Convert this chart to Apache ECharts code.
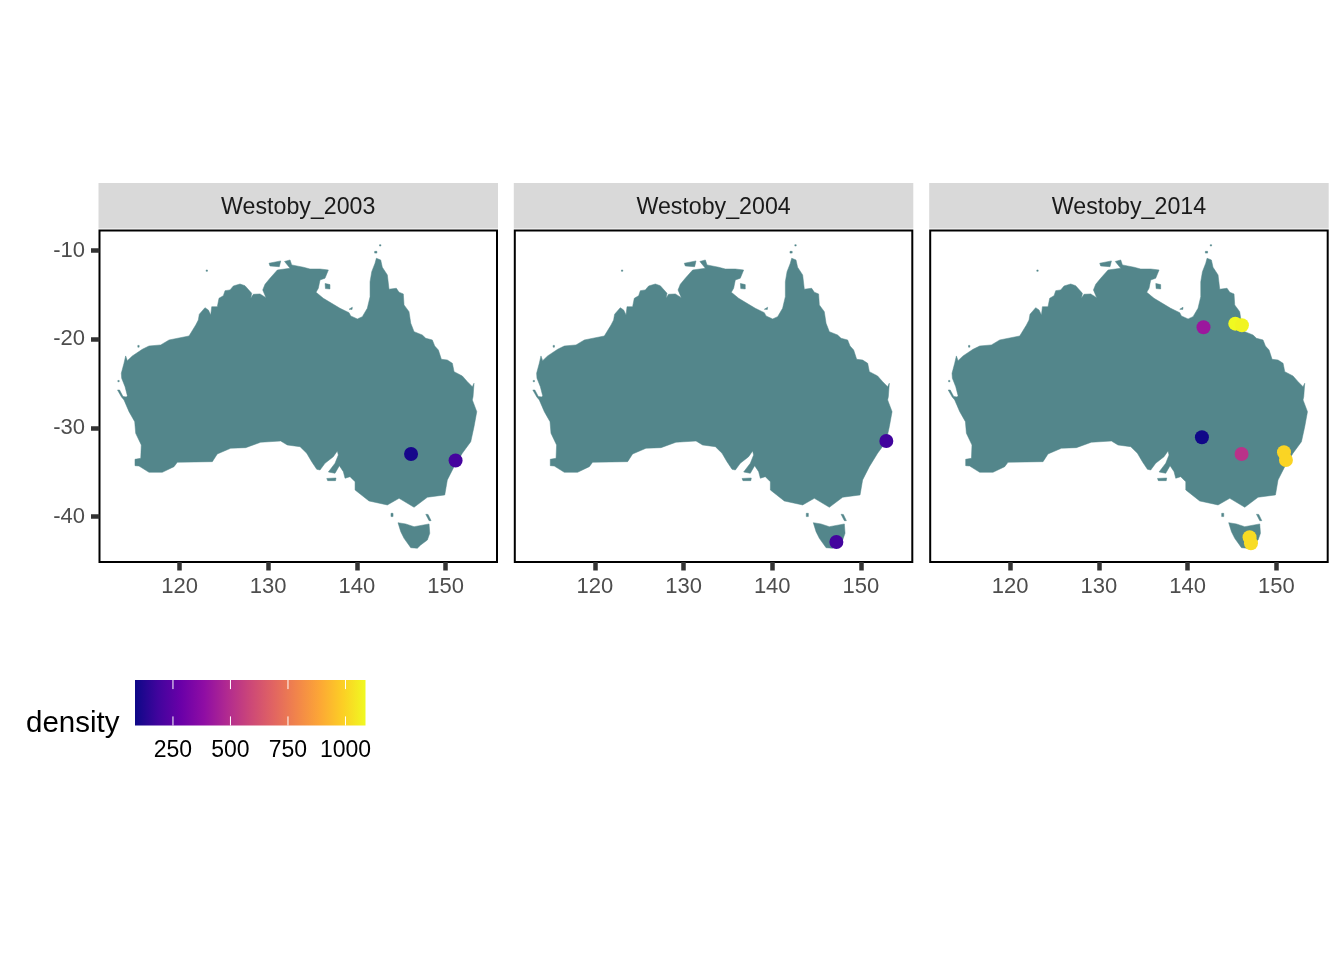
<!DOCTYPE html>
<html><head><meta charset="utf-8">
<style>html,body{margin:0;padding:0;background:#fff}#c{width:1344px;height:960px}</style>
<script src="https://cdn.jsdelivr.net/npm/echarts@6/dist/echarts.min.js"></script>
</head><body><div id="c"></div>
<script>
const panelNames = ['Westoby_2003','Westoby_2004','Westoby_2014'];
const lonTicks = [120,130,140,150];
const latTicks = [-40,-30,-20,-10];
const densityTicks = [250,500,750,1000];
const plasma = ['#0d0887','#41049d','#6a00a8','#8f0da4','#b12a90','#cc4778','#e16462','#f1844b','#fca636','#fcce25','#f0f921'];

const mainland = [[114.12,-26.37],[113.86,-25.36],[113.48,-24.41],[113.44,-23.84],[113.74,-22.72],[113.93,-21.89],[114.12,-22.42],[114.68,-21.89],[115.81,-21.14],[116.56,-20.77],[117.88,-20.65],[118.82,-20.09],[121.07,-19.64],[121.83,-18.40],[122.12,-17.84],[122.23,-17.19],[122.87,-16.45],[123.25,-16.71],[123.52,-17.27],[123.63,-16.34],[124.26,-16.34],[124.45,-15.39],[124.94,-15.10],[125.13,-14.53],[125.69,-14.45],[126.07,-14.00],[126.82,-13.78],[127.38,-13.97],[128.14,-14.83],[128.03,-15.39],[128.32,-14.94],[129.08,-14.90],[129.75,-15.32],[129.38,-14.45],[129.64,-13.81],[130.20,-13.13],[131.03,-12.20],[132.46,-12.01],[131.84,-11.24],[132.46,-11.07],[132.65,-11.63],[133.96,-11.89],[134.71,-12.09],[135.84,-12.09],[136.78,-12.20],[136.40,-13.13],[135.84,-13.33],[135.65,-14.26],[135.39,-14.71],[136.21,-15.39],[137.34,-16.07],[138.09,-16.52],[139.11,-17.01],[139.30,-17.38],[140.05,-17.72],[140.61,-17.46],[141.17,-16.52],[141.48,-15.21],[141.48,-13.52],[141.67,-12.39],[142.04,-11.44],[142.19,-10.88],[142.68,-11.07],[142.86,-11.89],[143.43,-12.76],[143.62,-14.37],[144.44,-14.26],[144.75,-14.71],[145.23,-14.90],[145.31,-16.14],[145.87,-16.90],[146.07,-18.21],[146.44,-19.15],[147.37,-19.53],[147.76,-19.90],[148.50,-20.09],[148.77,-20.77],[149.18,-21.22],[149.52,-22.27],[150.19,-22.35],[150.76,-22.72],[150.95,-23.66],[151.88,-24.15],[152.45,-24.79],[153.01,-25.36],[153.20,-24.97],[153.09,-26.48],[153.01,-26.85],[153.51,-28.17],[153.20,-29.86],[152.83,-31.56],[151.88,-32.86],[150.95,-34.37],[150.19,-35.87],[149.90,-37.56],[147.94,-37.82],[146.44,-38.95],[144.75,-37.94],[143.43,-38.69],[141.36,-38.24],[139.79,-37.00],[139.79,-36.07],[139.22,-35.50],[138.66,-35.68],[138.47,-34.94],[138.02,-34.26],[137.53,-35.12],[136.78,-34.97],[137.53,-33.99],[137.90,-33.06],[137.79,-32.60],[137.34,-33.25],[136.40,-33.99],[135.84,-34.75],[135.47,-34.67],[134.90,-33.81],[134.34,-32.86],[133.59,-32.12],[132.15,-31.93],[131.41,-31.48],[129.15,-31.62],[127.46,-32.23],[125.77,-32.30],[124.26,-32.94],[123.70,-33.81],[119.75,-33.88],[119.38,-34.37],[118.06,-35.01],[116.56,-35.01],[115.43,-34.30],[114.98,-34.26],[114.98,-33.54],[115.63,-33.43],[115.69,-31.93],[115.06,-30.61],[114.95,-29.30],[114.31,-28.17],[113.74,-26.85],[113.46,-26.52],[113.01,-25.73],[113.24,-25.73],[113.63,-26.46],[114.02,-26.52]];
const tasmania = [[144.63,-40.69],[145.50,-40.83],[146.44,-41.14],[148.13,-40.83],[148.21,-41.88],[147.94,-42.64],[147.19,-43.20],[146.81,-43.57],[146.07,-43.51],[145.31,-42.45],[144.94,-41.70]];
const kangaroo = [[136.60,-35.70],[137.64,-35.65],[137.59,-35.95],[136.70,-35.95]];
const bathurst = [[130.09,-11.44],[131.41,-11.18],[131.25,-11.83],[130.20,-11.75]];
const groote = [[136.41,-13.72],[136.96,-13.85],[136.96,-14.34],[136.45,-14.30]];
const mornington = [[139.11,-16.63],[139.48,-16.40],[139.45,-16.65]];
const king = [[143.84,-39.63],[144.07,-39.63],[144.07,-40.00],[143.84,-40.00]];
const flinders = [[147.76,-39.74],[148.02,-39.76],[148.36,-40.46],[148.13,-40.46]];
const adele = [[123.00,-12.20],[123.15,-12.20],[123.15,-12.35],[123.00,-12.35]];
const barrow = [[115.30,-20.70],[115.45,-20.70],[115.45,-20.90],[115.30,-20.90]];
const dirkHartog = [[113.05,-24.65],[113.20,-24.65],[113.20,-24.80],[113.05,-24.80]];
const torres1 = [[142.00,-10.10],[142.25,-10.10],[142.25,-10.30],[142.00,-10.30]];
const torres2 = [[142.55,-9.35],[142.70,-9.35],[142.70,-9.50],[142.55,-9.50]];
const landShapes = [mainland,tasmania,kangaroo,bathurst,groote,mornington,king,flinders,adele,barrow,dirkHartog,torres1,torres2];

const sites2003 = [[146.10,-32.94,105],[151.12,-33.68,195]];
const sites2004 = [[152.86,-31.48,185],[147.23,-42.86,190]];
const sites2014 = [[141.79,-18.66,420],[145.37,-18.25,1087],[146.12,-18.43,1075],[141.61,-31.06,90],[146.08,-32.94,515],[150.86,-32.75,1000],[151.08,-33.62,1000],[146.98,-42.33,1020],[147.14,-43.01,1020]];
const allSites = [sites2003,sites2004,sites2014];

const FONT = '"Liberation Sans", Arial, sans-serif';
const panelLeft = [99.5,514.8,930.2];
const PW = 397.5, PT = 230.5, PH = 331.5;
const densityMin = 85, densityMax = 1087;

const grids = [], xAxes = [], yAxes = [], series = [], graphics = [];
panelNames.forEach((name,i)=>{
  grids.push({left:panelLeft[i],top:PT,width:PW,height:PH,show:true,borderColor:'#000',borderWidth:2,backgroundColor:'#fff'});
  xAxes.push({type:'value',gridIndex:i,min:110.98,max:155.79,splitLine:{show:false},axisLine:{show:false},
    axisTick:{length:8.5,lineStyle:{color:'#333',width:4.5},customValues:lonTicks},
    axisLabel:{color:'#4d4d4d',fontFamily:FONT,fontSize:22,margin:14,customValues:lonTicks}});
  yAxes.push({type:'value',gridIndex:i,min:-45.12,max:-7.75,show:i===0,splitLine:{show:false},axisLine:{show:false},
    axisTick:{length:8.5,lineStyle:{color:'#333',width:4.5},customValues:latTicks},
    axisLabel:{color:'#4d4d4d',fontFamily:FONT,fontSize:22,margin:14.5,padding:[2,0,0,0],customValues:latTicks}});
  series.push({type:'custom',xAxisIndex:i,yAxisIndex:i,silent:true,clip:true,
    data:landShapes.map((s,k)=>[k]),
    renderItem:(p,api)=>({type:'polygon',
      shape:{points:landShapes[api.value(0)].map(c=>api.coord(c))},
      style:{fill:'#53868b',stroke:'#53868b',lineWidth:0.5}})});
  series.push({type:'scatter',xAxisIndex:i,yAxisIndex:i,data:allSites[i],symbolSize:14,z:5,
    itemStyle:{opacity:1}});
  graphics.push({type:'rect',silent:true,z:-1,shape:{x:panelLeft[i]-1,y:183,width:PW+2,height:45.5},style:{fill:'#d9d9d9'}});
  graphics.push({type:'text',silent:true,style:{x:panelLeft[i]+PW/2,y:208,text:name,fill:'#1a1a1a',font:'23.2px '+FONT,align:'center',verticalAlign:'middle'}});
});

// colour bar, drawn through its own density axis
const barIdx = 3;
grids.push({left:135,top:680,width:230.5,height:45.5,show:false});
xAxes.push({type:'value',gridIndex:barIdx,min:densityMin,max:densityMax,splitLine:{show:false},axisLine:{show:false},axisTick:{show:false},
  axisLabel:{color:'#000',fontFamily:FONT,fontSize:23,margin:14,customValues:densityTicks,hideOverlap:false,formatter:v=>String(v)}});
yAxes.push({type:'value',gridIndex:barIdx,min:0,max:1,show:false});
series.push({type:'custom',xAxisIndex:barIdx,yAxisIndex:barIdx,silent:true,data:[[densityMin]],
  renderItem:(p,api)=>{
    const a=api.coord([densityMin,1]), b=api.coord([densityMax,0]);
    return {type:'rect',shape:{x:a[0],y:a[1],width:b[0]-a[0],height:b[1]-a[1]},
      style:{fill:{type:'linear',x:0,y:0,x2:1,y2:0,colorStops:plasma.map((c,k)=>({offset:k/(plasma.length-1),color:c}))}}};
  }});
series.push({type:'custom',xAxisIndex:barIdx,yAxisIndex:barIdx,silent:true,z:3,data:densityTicks.map(v=>[v]),
  renderItem:(p,api)=>{
    const v=api.value(0);
    const seg=(y0,y1)=>{const s=api.coord([v,y0]),e=api.coord([v,y1]);
      return {type:'line',shape:{x1:s[0],y1:s[1],x2:e[0],y2:e[1]},style:{stroke:'#fff',lineWidth:1}};};
    return {type:'group',children:[seg(0,0.2),seg(0.8,1)]};
  }});
graphics.push({type:'text',silent:true,style:{x:26,y:724,text:'density',fill:'#000',font:'29.5px '+FONT,align:'left',verticalAlign:'middle'}});

const chart = echarts.init(document.getElementById('c'),null,{renderer:'canvas'});
chart.setOption({
  animation:false,backgroundColor:'#fff',
  grid:grids,xAxis:xAxes,yAxis:yAxes,series,graphic:graphics,
  visualMap:{show:false,type:'continuous',seriesIndex:[1,3,5],dimension:2,min:densityMin,max:densityMax,inRange:{color:plasma}}
});
</script></body></html>
